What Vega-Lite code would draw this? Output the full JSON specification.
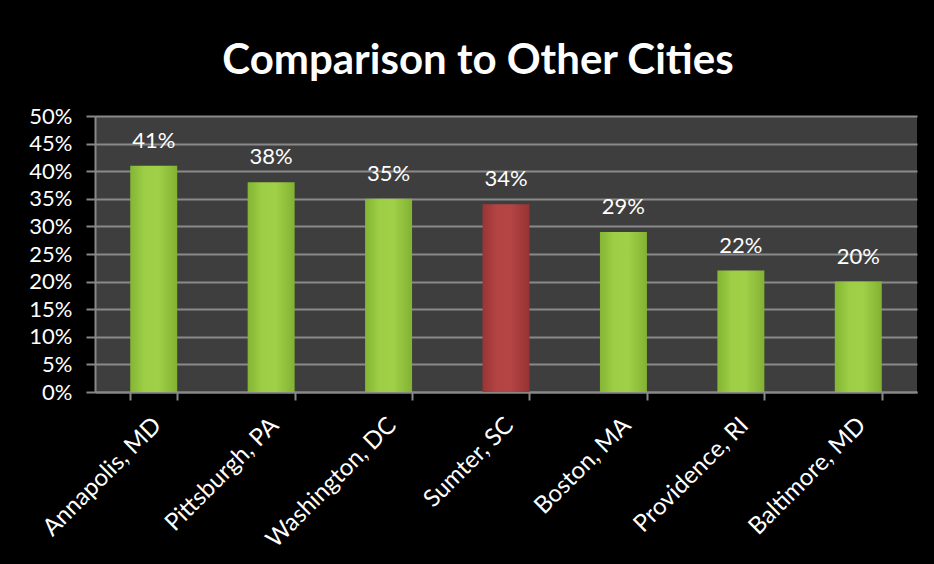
{
  "$schema": "https://vega.github.io/schema/vega-lite/v6.json",
  "width": 822,
  "height": 276,
  "autosize": {"type": "none"},
  "padding": {"left": 95, "top": 116, "right": 17, "bottom": 172},
  "background": "#000000",
  "title": {
    "text": "Comparison to Other Cities",
    "font": "Lato",
    "fontSize": 42,
    "fontWeight": "bold",
    "color": "#ffffff",
    "anchor": "middle",
    "baseline": "bottom",
    "offset": -20,
    "dx": -28
  },
  "data": {
    "values": [
      {"city": "Annapolis, MD", "share": 0.41, "label": "41%", "highlight": "no"},
      {"city": "Pittsburgh, PA", "share": 0.38, "label": "38%", "highlight": "no"},
      {"city": "Washington, DC", "share": 0.35, "label": "35%", "highlight": "no"},
      {"city": "Sumter, SC", "share": 0.34, "label": "34%", "highlight": "yes"},
      {"city": "Boston, MA", "share": 0.29, "label": "29%", "highlight": "no"},
      {"city": "Providence, RI", "share": 0.22, "label": "22%", "highlight": "no"},
      {"city": "Baltimore, MD", "share": 0.20, "label": "20%", "highlight": "no"}
    ]
  },
  "encoding": {
    "x": {
      "field": "city",
      "type": "nominal",
      "sort": null,
      "scale": {
        "domain": ["Annapolis, MD", "Pittsburgh, PA", "Washington, DC", "Sumter, SC", "Boston, MA", "Providence, RI", "Baltimore, MD"],
        "paddingInner": 0.6,
        "paddingOuter": 0.3
      },
      "axis": {
        "title": null,
        "labelAngle": -45,
        "labelFont": "Lato",
        "labelFontSize": 24,
        "labelColor": "#ffffff",
        "labelPadding": 13,
        "labelOffset": -5,
        "tickBand": "extent",
        "tickColor": "#888888",
        "tickWidth": 2,
        "tickSize": 8,
        "domainColor": "#888888",
        "domainWidth": 2,
        "grid": false
      }
    },
    "y": {
      "field": "share",
      "type": "quantitative",
      "scale": {"domain": [0, 0.5], "nice": false},
      "axis": {
        "title": null,
        "format": ".0%",
        "values": [0, 0.05, 0.1, 0.15, 0.2, 0.25, 0.3, 0.35, 0.4, 0.45, 0.5],
        "labelFont": "Lato",
        "labelFontSize": 22,
        "labelColor": "#ffffff",
        "labelPadding": 14,
        "tickColor": "#888888",
        "tickWidth": 2,
        "tickSize": 9,
        "domainColor": "#888888",
        "domainWidth": 2,
        "grid": true,
        "gridColor": "#8a8a8a",
        "gridWidth": 2
      }
    }
  },
  "layer": [
    {
      "transform": [{"filter": "datum.highlight == 'no'"}],
      "mark": {
        "type": "bar",
        "color": {
          "gradient": "linear",
          "x1": 0, "x2": 1, "y1": 0, "y2": 0,
          "stops": [
            {"offset": 0, "color": "#84B534"},
            {"offset": 0.3, "color": "#9DCE45"},
            {"offset": 0.6, "color": "#A0D048"},
            {"offset": 1, "color": "#82B232"}
          ]
        }
      }
    },
    {
      "transform": [{"filter": "datum.highlight == 'yes'"}],
      "mark": {
        "type": "bar",
        "color": {
          "gradient": "linear",
          "x1": 0, "x2": 1, "y1": 0, "y2": 0,
          "stops": [
            {"offset": 0, "color": "#9A3434"},
            {"offset": 0.3, "color": "#B44444"},
            {"offset": 0.6, "color": "#B44545"},
            {"offset": 1, "color": "#983232"}
          ]
        }
      }
    },
    {
      "mark": {
        "type": "text",
        "font": "Lato",
        "fontSize": 22,
        "color": "#ffffff",
        "baseline": "alphabetic",
        "dy": -18
      },
      "encoding": {"text": {"field": "label"}}
    }
  ],
  "config": {
    "view": {"fill": "#3E3E3E", "stroke": null}
  }
}
